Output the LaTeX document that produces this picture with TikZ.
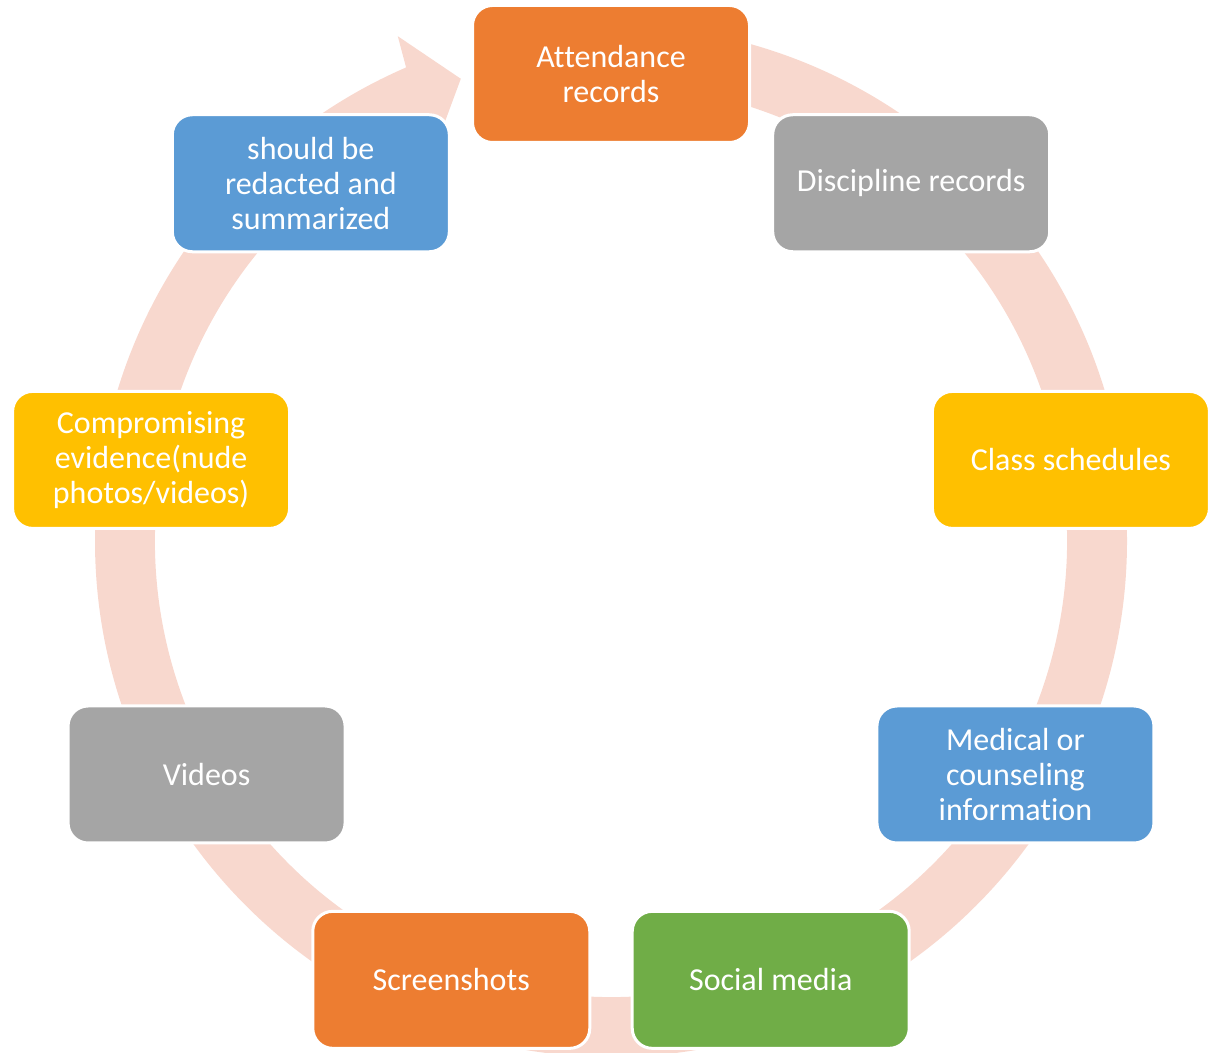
\documentclass[tikz,border=0pt]{standalone}
\usepackage{fontspec}
\setmainfont{Carlito}[Ligatures=NoCommon]
\definecolor{orng}{HTML}{ED7D31}
\definecolor{grey}{HTML}{A5A5A5}
\definecolor{gold}{HTML}{FFC000}
\definecolor{blu}{HTML}{5B9BD5}
\definecolor{grn}{HTML}{70AD47}
\definecolor{ringc}{HTML}{F8D8CE}
\tikzset{
  item/.style={rounded corners=20pt, draw=white, line width=3pt,
               minimum width=277pt, minimum height=137pt, align=center,
               inner sep=4pt, text=white, font=\fontsize{32}{35}\selectfont},
}
\begin{document}
\begin{tikzpicture}[x=1pt, y=1pt]
    \clip (0,0) rectangle (1217,1052);
    \coordinate (c) at (611,511);
    \begin{scope}[shift={(c)}]
    % circular arrow behind the boxes
    \fill[ringc] (90:516pt) arc[start angle=90, end angle=-246.6, radius=516pt]
      -- (-247.1:548pt) -- (-252:486pt) -- (-245.7:429pt) -- (-245.9:456pt)
      arc[start angle=-245.9, end angle=90, radius=456pt] -- cycle;
    \node[item, fill=orng] (att) at (90:467pt) {Attendance\\records};
    \node[item, fill=grey] (disc) at (50:467pt) {Discipline records};
    \node[item, fill=gold] (cls) at (10:467pt) {Class schedules};
    \node[item, fill=blu] (med) at (-30:467pt) {Medical or\\counseling\\information};
    \node[item, fill=grn] (soc) at (-70:467pt) {Social media};
    \node[item, fill=orng] (scr) at (-110:467pt) {Screenshots};
    \node[item, fill=grey] (vid) at (-150:467pt) {Videos};
    \node[item, fill=gold] (comp) at (-190:467pt) {Compromising\\evidence(nude\\photos/videos)};
    \node[item, fill=blu] (red) at (-230:467pt) {should be\\redacted and\\summarized};
    \end{scope}
  \end{tikzpicture}
\end{document}
